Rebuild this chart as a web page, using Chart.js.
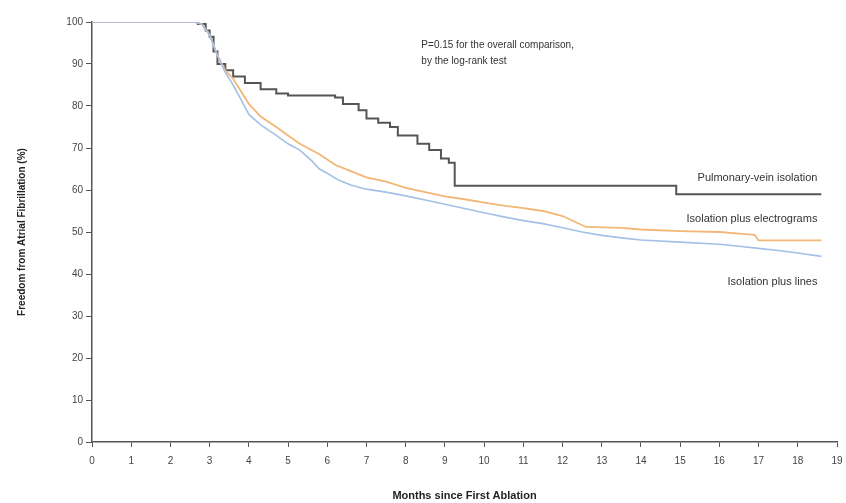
<!DOCTYPE html>
<html>
<head>
<meta charset="utf-8">
<script src="https://cdn.jsdelivr.net/npm/chart.js@4/dist/chart.umd.min.js"></script>
<style>
  html, body { margin: 0; padding: 0; background: #ffffff; overflow: hidden; }
  #km { display: block; }
</style>
</head>
<body>
<canvas id="km" width="846" height="503"></canvas>
<script>
// Kaplan-Meier estimates: freedom from atrial fibrillation (%) by month
const pviMonths = [0, 2.5, 2.7, 2.9, 3.0, 3.1, 3.2, 3.4, 3.6, 3.9, 4.3, 4.7, 5.0, 6.0, 6.2, 6.4, 6.8, 7.0, 7.3, 7.6, 7.8, 8.3, 8.6, 8.9, 9.1, 9.25, 14.8, 14.9, 18.6];
const pviValues = [100, 100, 99.5, 98, 96.5, 93, 90, 88.5, 87, 85.5, 84, 83, 82.5, 82.5, 82, 80.5, 79, 77, 76, 75, 73, 71, 69.5, 67.5, 66.5, 61, 61, 59, 59];

const egmMonths = [0, 2.6, 2.8, 3.0, 3.2, 3.4, 3.6, 3.8, 4.0, 4.3, 4.7, 5.0, 5.3, 5.8, 6.2, 6.6, 7.0, 7.5, 8.0, 8.5, 9.0, 9.5, 10.0, 10.5, 11.0, 11.5, 12.0, 12.3, 12.6, 13.5, 14.0, 15.0, 16.0, 16.5, 16.9, 17.0, 18.6];
const egmValues = [100, 100, 99.5, 97, 92, 88.5, 86.5, 83.5, 80.5, 77.5, 75, 73, 71, 68.5, 66, 64.5, 63, 62, 60.5, 59.5, 58.5, 57.8, 57, 56.3, 55.7, 55, 53.8, 52.5, 51.2, 51, 50.6, 50.2, 50, 49.6, 49.3, 48, 48];

const linMonths = [0, 2.6, 2.8, 3.0, 3.2, 3.4, 3.6, 3.8, 4.0, 4.3, 4.7, 5.0, 5.3, 5.6, 5.8, 6.0, 6.3, 6.6, 7.0, 7.5, 8.0, 8.5, 9.0, 9.5, 10.0, 10.5, 11.0, 11.5, 12.0, 12.5, 13.0, 13.5, 14.0, 15.0, 16.0, 16.5, 17.0, 17.5, 18.0, 18.6];
const linValues = [100, 100, 99.5, 97, 92, 88, 85, 81.5, 78, 75.5, 73, 71, 69.5, 67, 65, 64, 62.3, 61.2, 60.2, 59.5, 58.6, 57.6, 56.6, 55.6, 54.6, 53.6, 52.7, 52, 51, 50, 49.2, 48.6, 48.1, 47.6, 47.1, 46.6, 46.1, 45.6, 45, 44.2];

const seriesNames = ['Pulmonary-vein isolation', 'Isolation plus electrograms', 'Isolation plus lines'];
const xTicks = [0, 1, 2, 3, 4, 5, 6, 7, 8, 9, 10, 11, 12, 13, 14, 15, 16, 17, 18, 19];
const yTicks = [0, 10, 20, 30, 40, 50, 60, 70, 80, 90, 100];
const pNote = ['P=0.15 for the overall comparison,', 'by the log-rank test'];

const toPoints = (xs, ys) => xs.map((x, i) => ({ x: x, y: ys[i] }));

// Series labels sit right-aligned at the end of the curves; the p-value note sits top-centre
const notes = {
  id: 'notes',
  afterDatasetsDraw(chart) {
    const { ctx, scales: { x, y } } = chart;
    ctx.save();
    ctx.fillStyle = '#333';
    ctx.font = '10px "Liberation Sans", Arial, sans-serif';
    ctx.textBaseline = 'middle';
    ctx.textAlign = 'left';
    ctx.fillText(pNote[0], x.getPixelForValue(8.4), y.getPixelForValue(94.4));
    ctx.fillText(pNote[1], x.getPixelForValue(8.4), y.getPixelForValue(90.7));
    ctx.textAlign = 'right';
    ctx.font = '11px "Liberation Sans", Arial, sans-serif';
    ctx.fillText(seriesNames[0], x.getPixelForValue(18.5), y.getPixelForValue(62.9));
    ctx.fillText(seriesNames[1], x.getPixelForValue(18.5), y.getPixelForValue(53.0));
    ctx.fillText(seriesNames[2], x.getPixelForValue(18.5), y.getPixelForValue(38.0));
    ctx.restore();
  }
};

new Chart(document.getElementById('km'), {
  type: 'line',
  data: {
    datasets: [
      { label: seriesNames[2], data: toPoints(linMonths, linValues), borderColor: '#a3c0e6', borderWidth: 1.6, pointRadius: 0, fill: false, tension: 0 },
      { label: seriesNames[1], data: toPoints(egmMonths, egmValues), borderColor: '#f2b676', borderWidth: 1.8, pointRadius: 0, fill: false, tension: 0 },
      { label: seriesNames[0], data: toPoints(pviMonths, pviValues), borderColor: '#555555', borderWidth: 2, stepped: true, pointRadius: 0, fill: false }
    ]
  },
  options: {
    responsive: false,
    animation: false,
    devicePixelRatio: 1,
    layout: { padding: { top: 22, right: 9, left: 0, bottom: 0 } },
    plugins: { legend: { display: false }, tooltip: { enabled: false } },
    scales: {
      x: {
        type: 'linear', min: 0, max: 19,
        afterBuildTicks(s) { s.ticks = xTicks.map(v => ({ value: v })); },
        afterFit(s) { s.height = 61; s.paddingLeft = 0; s.paddingRight = 0; },
        grid: { drawOnChartArea: false, drawTicks: true, tickLength: 5, color: '#555' },
        border: { color: '#555', width: 1.5 },
        ticks: { color: '#444', font: { size: 10, family: '"Liberation Sans", Arial, sans-serif' }, padding: 8, maxRotation: 0, autoSkip: false },
        title: { display: true, text: 'Months since First Ablation', color: '#222', font: { size: 11, weight: 'bold', family: '"Liberation Sans", Arial, sans-serif' }, padding: { top: 10, bottom: 0 } }
      },
      y: {
        type: 'linear', min: 0, max: 100,
        afterBuildTicks(s) { s.ticks = yTicks.map(v => ({ value: v })); },
        afterFit(s) { s.width = 92; },
        grid: { drawOnChartArea: false, drawTicks: true, tickLength: 6, color: '#555' },
        border: { color: '#555', width: 1.5 },
        ticks: { color: '#444', font: { size: 10, family: '"Liberation Sans", Arial, sans-serif' }, padding: 3 },
        title: { display: true, text: 'Freedom from Atrial Fibrillation (%)', color: '#222', font: { size: 10, weight: 'bold', family: '"Liberation Sans", Arial, sans-serif' }, padding: { top: 16, bottom: 0 } }
      }
    }
  },
  plugins: [notes]
});
</script>
</body>
</html>
